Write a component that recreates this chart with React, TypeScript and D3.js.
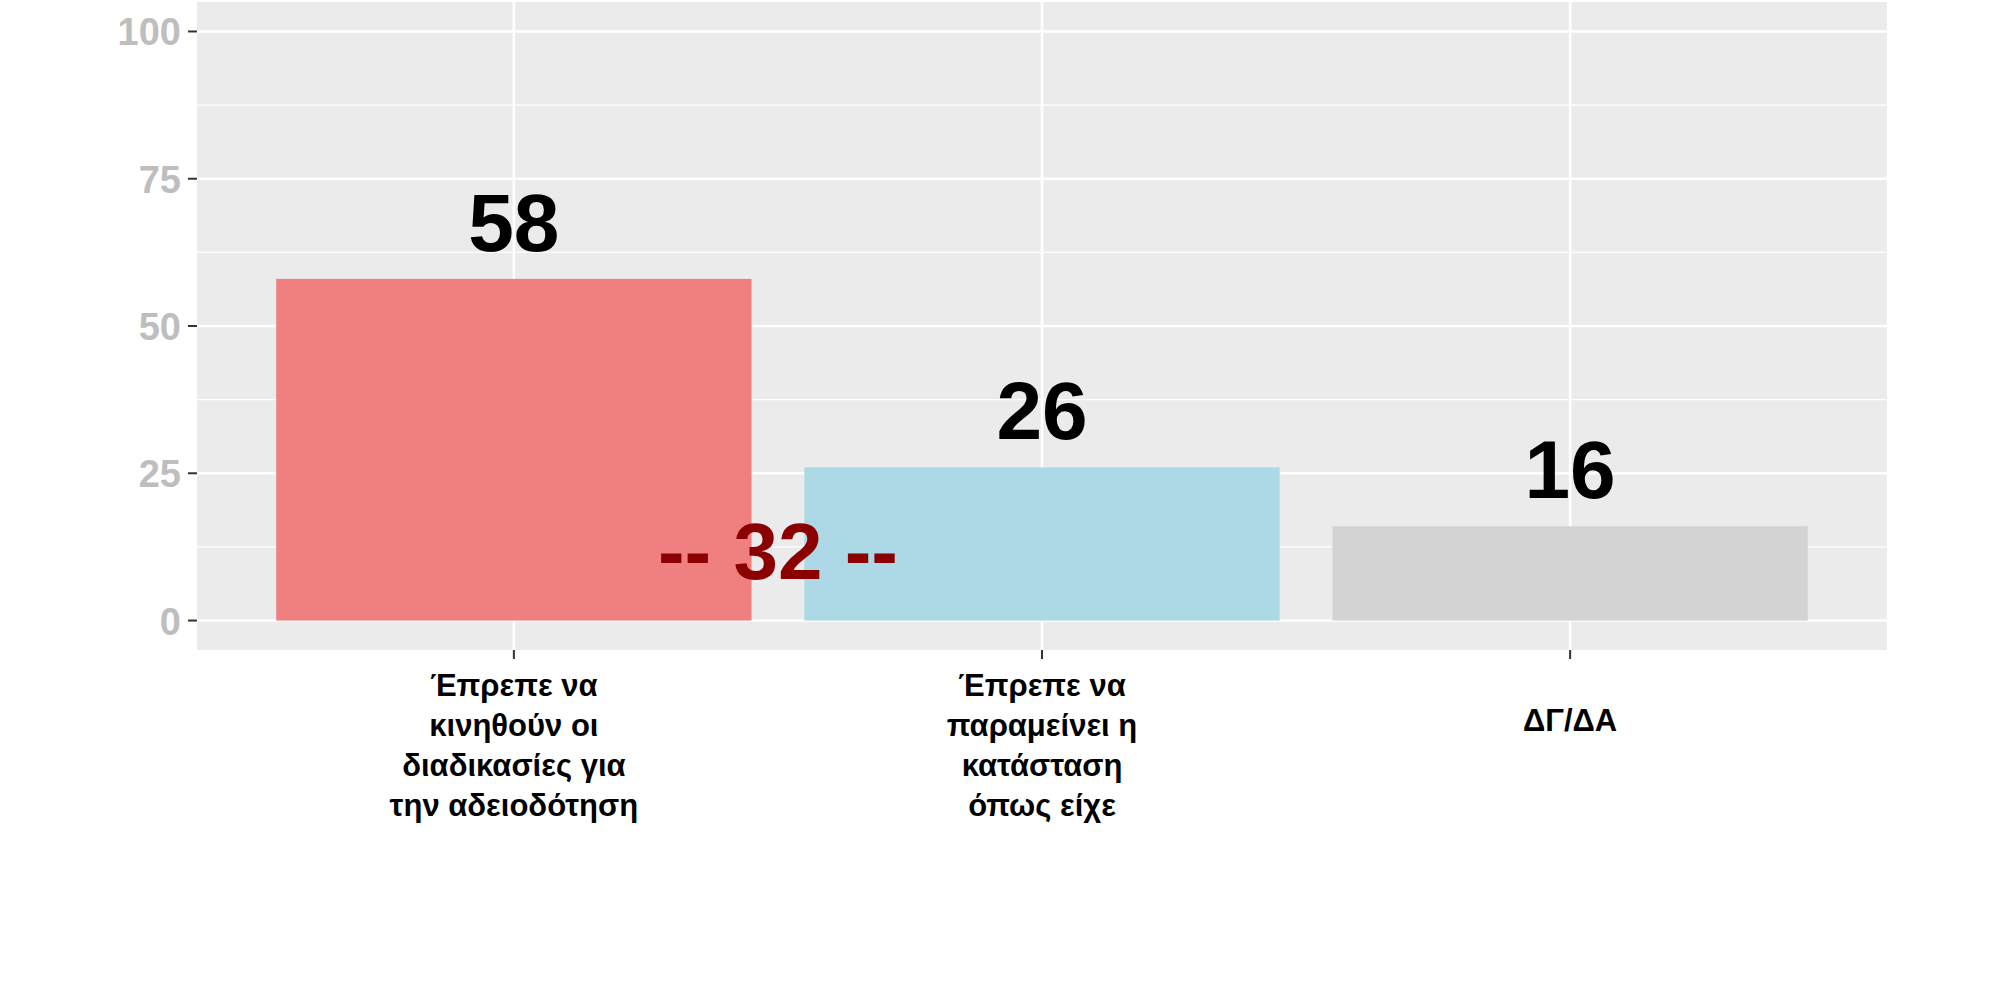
import React, { useEffect } from "react";
import * as d3 from "d3";

const categories = [
  ["Έπρεπε να", "κινηθούν οι", "διαδικασίες για", "την αδειοδότηση"],
  ["Έπρεπε να", "παραμείνει η", "κατάσταση", "όπως είχε"],
  ["ΔΓ/ΔΑ"],
];
const values = [58, 26, 16];
const colors = ["#F08080", "#ADD8E6", "#D3D3D3"];
const yTicks = [0, 25, 50, 75, 100];
const yMinor = [12.5, 37.5, 62.5, 87.5];
const diffLabel = "-- 32 --";
const diffY = 7;

const W = 2000;
const H = 1000;
const panel = { left: 197, right: 1887, top: 2, bottom: 650 };

const App = () => {
  useEffect(() => {
    document.body.style.margin = "0";
  }, []);

  const keys = categories.map((_, i) => String(i));
  // ggplot discrete axis: 0.6 units of expansion each side, bars 0.9 wide
  const x = d3
    .scaleBand()
    .domain(keys)
    .range([panel.left, panel.right])
    .paddingInner(0.1)
    .paddingOuter(0.15);
  const y = d3.scaleLinear().domain([-5, 105]).range([panel.bottom, panel.top]);
  const cx = (i: number) => (x(String(i)) as number) + x.bandwidth() / 2;

  const font = "'Liberation Sans', Arial, sans-serif";

  return (
    <svg width={W} height={H} style={{ display: "block", background: "#fff" }} fontFamily={font}>
      <rect
        x={panel.left}
        y={panel.top}
        width={panel.right - panel.left}
        height={panel.bottom - panel.top}
        fill="#EBEBEB"
      />
      {yMinor.map((t) => (
        <line key={"m" + t} x1={panel.left} x2={panel.right} y1={y(t)} y2={y(t)} stroke="#fff" strokeWidth={1.3} />
      ))}
      {yTicks.map((t) => (
        <line key={"g" + t} x1={panel.left} x2={panel.right} y1={y(t)} y2={y(t)} stroke="#fff" strokeWidth={2.6} />
      ))}
      {keys.map((k, i) => (
        <line key={"v" + k} x1={cx(i)} x2={cx(i)} y1={panel.top} y2={panel.bottom} stroke="#fff" strokeWidth={2.6} />
      ))}
      {values.map((v, i) => (
        <rect
          key={"b" + i}
          x={x(String(i))}
          y={y(v)}
          width={x.bandwidth()}
          height={y(0) - y(v)}
          fill={colors[i]}
        />
      ))}
      {values.map((v, i) => (
        <text
          key={"l" + i}
          x={cx(i)}
          y={y(v) - 28}
          textAnchor="middle"
          fontSize={82}
          fontWeight="bold"
          fill="#000"
        >
          {v}
        </text>
      ))}
      <text
        x={(cx(0) + cx(1)) / 2}
        y={y(diffY)}
        textAnchor="middle"
        fontSize={80}
        fontWeight="bold"
        fill="#8B0000"
      >
        {diffLabel}
      </text>
      {yTicks.map((t) => (
        <g key={"yt" + t}>
          <line x1={panel.left - 9} x2={panel.left} y1={y(t)} y2={y(t)} stroke="#333" strokeWidth={2} />
          <text
            x={panel.left - 16}
            y={y(t) + 14}
            textAnchor="end"
            fontSize={38}
            fontWeight="bold"
            fill="#BEBEBE"
          >
            {t}
          </text>
        </g>
      ))}
      {categories.map((lines, i) => (
        <g key={"xt" + i}>
          <line x1={cx(i)} x2={cx(i)} y1={panel.bottom} y2={panel.bottom + 9} stroke="#333" strokeWidth={2} />
          {lines.map((s, j) => (
            <text
              key={j}
              x={cx(i)}
              y={(lines.length === 1 ? 731 : 696) + j * 40}
              textAnchor="middle"
              fontSize={31}
              fontWeight="bold"
              fill="#000"
            >
              {s}
            </text>
          ))}
        </g>
      ))}
    </svg>
  );
};

export default App;
